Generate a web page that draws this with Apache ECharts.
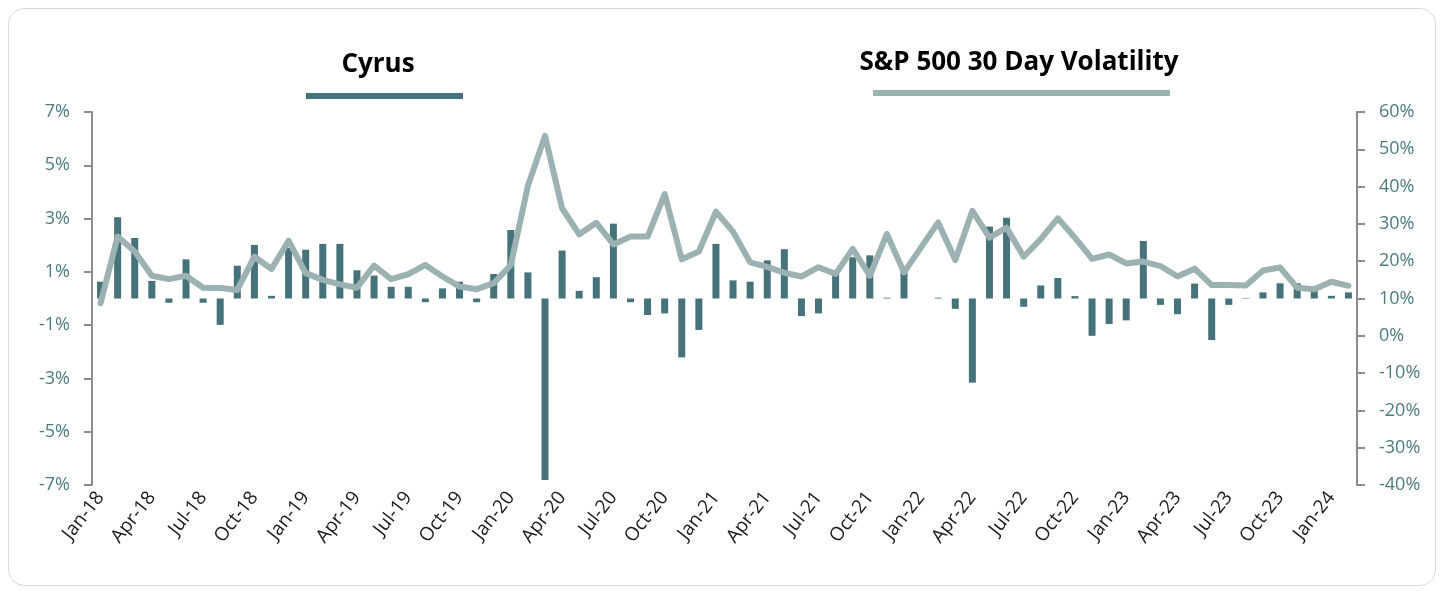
<!DOCTYPE html>
<html>
<head>
<meta charset="utf-8">
<script src="https://cdn.jsdelivr.net/npm/echarts@6/dist/echarts.min.js"></script>
<style>
html,body{margin:0;padding:0;background:#fff;}
#frame{position:absolute;left:8px;top:8px;width:1428px;height:578px;border:1px solid #d9d9d9;border-radius:16px;box-sizing:border-box;}
#chart{position:absolute;left:0;top:0;width:1446px;height:591px;}
</style>
</head>
<body>
<div id="frame"></div>
<div id="chart"></div>
<script>
const years = ['18','19','20','21','22','23','24'];
const months = ['Jan','Feb','Mar','Apr','May','Jun','Jul','Aug','Sep','Oct','Nov','Dec'];
const categories = [];
years.forEach(y => months.forEach(m => { if (categories.length < 74) categories.push(m + '-' + y); }));

const cyrus = [0.63,3.05,2.27,0.66,-0.16,1.47,-0.16,-0.99,1.23,2.01,0.10,1.90,
  1.83,2.05,2.05,1.06,0.86,0.44,0.44,-0.14,0.38,0.63,-0.14,0.92,
  2.57,0.98,-6.81,1.80,0.29,0.80,2.81,-0.14,-0.62,-0.56,-2.21,-1.18,
  2.05,0.68,0.63,1.43,1.85,-0.66,-0.56,0.95,1.55,1.62,0.03,1.05,
  0.00,0.03,-0.39,-3.16,2.70,3.03,-0.31,0.49,0.77,0.09,-1.40,-0.96,
  -0.82,2.16,-0.24,-0.59,0.56,-1.56,-0.24,0.02,0.23,0.57,0.57,0.44,
  0.10,0.23];
const volatility = [8.7,26.6,22.6,16.1,15.2,16.1,12.9,12.8,12.3,21.2,17.9,25.5,
  16.8,15.0,13.8,12.9,18.8,15.2,16.5,19.0,15.9,13.2,12.5,14.1,
  19.0,40.2,53.6,34.2,27.2,30.3,24.5,26.6,26.6,38.0,20.5,22.6,
  33.3,27.9,19.7,18.5,16.9,15.9,18.4,16.6,23.3,16.1,27.3,17.0,
  23.7,30.4,20.3,33.5,26.3,29.0,21.2,25.9,31.5,26.3,20.6,21.8,
  19.4,19.9,18.7,15.9,18.0,13.6,13.6,13.5,17.5,18.3,12.9,12.5,
  14.5,13.4];
const leftTicks = [-7,-5,-3,-1,1,3,5,7];
const seriesNames = ['Cyrus','S&P 500 30 Day Volatility'];

const barColor = '#46737a';
const lineColor = '#9bb1b2';
const tickColor = '#4d7c80';
const axisGray = '#8c8c8c';
const FONT = '"Open Sans", "Noto Sans", sans-serif';

const chart = echarts.init(document.getElementById('chart'), null, {renderer:'canvas'});
chart.setOption({
  animation:false,
  grid:{left:92, right:89, top:112, bottom:106, containLabel:false},
  graphic:[
    {type:'text', x:378, y:65, style:{text:seriesNames[0], font:'bold 26px '+FONT, fill:'#000', align:'center', verticalAlign:'middle'}},
    {type:'rect', shape:{x:306, y:93, width:157, height:6}, style:{fill:barColor}},
    {type:'text', x:1019, y:63, style:{text:seriesNames[1], font:'bold 26px '+FONT, fill:'#000', align:'center', verticalAlign:'middle'}},
    {type:'rect', shape:{x:873, y:90, width:297, height:6}, style:{fill:lineColor}}
  ],
  xAxis:{
    type:'category', data:categories, boundaryGap:true,
    axisLine:{show:false}, axisTick:{show:false},
    axisLabel:{interval:2, rotate:52, margin:9, color:'#1a1a1a', fontSize:19, fontFamily:FONT}
  },
  yAxis:[
    {type:'value', min:-7, max:7, position:'left',
     splitLine:{show:false},
     axisLine:{show:true, lineStyle:{color:axisGray, width:2}},
     axisTick:{show:true, customValues:leftTicks, length:8, lineStyle:{color:axisGray, width:2}},
     axisLabel:{customValues:leftTicks, formatter:v=>v+'%', color:tickColor, fontSize:18, fontFamily:FONT, margin:22}},
    {type:'value', min:-40, max:60, interval:10, position:'right',
     splitLine:{show:false},
     axisLine:{show:true, lineStyle:{color:axisGray, width:2}},
     axisTick:{show:true, length:8, lineStyle:{color:axisGray, width:2}},
     axisLabel:{formatter:v=>v+'%', color:tickColor, fontSize:18, fontFamily:FONT, margin:22}}
  ],
  series:[
    {name:seriesNames[0], type:'bar', yAxisIndex:0, data:cyrus, barWidth:7, itemStyle:{color:barColor}, z:2},
    {name:seriesNames[1], type:'line', yAxisIndex:1, data:volatility, symbol:'none', lineStyle:{color:lineColor, width:6, join:'round', cap:'round'}, z:3}
  ]
});
</script>
</body>
</html>
